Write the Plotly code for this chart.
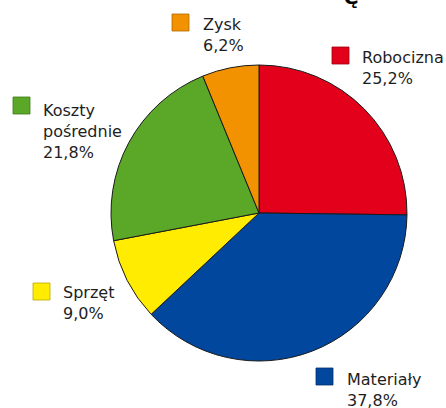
import plotly.graph_objects as go

# ---- data ----
labels = ["Robocizna", "Materiały", "Sprzęt", "Koszty pośrednie", "Zysk"]
display_names = ["Robocizna", "Materiały", "Sprzęt", "Koszty<br>pośrednie", "Zysk"]
values = [25.2, 37.8, 9.0, 21.8, 6.2]
colors = ["#E2001A", "#00479D", "#FFEC00", "#5BA829", "#F39200"]
edge_colors = ["#9a0012", "#00306a", "#b8a800", "#3d7a1a", "#b06a00"]

W, H = 446, 408

# legend-like label placement (pixels: square left/top, text left, cap top)
label_pos = [
    (332, 47, 362, 51),   # Robocizna
    (316, 368, 347, 373), # Materiały
    (33, 283, 63, 286),   # Sprzęt
    (13, 97, 43, 104),    # Koszty
    (172, 14, 203, 18),   # Zysk
]

def px(x):
    return x / W

def py(y):
    return 1 - y / H

cx, cy, r = 259, 213, 148

fig = go.Figure(go.Pie(
    labels=labels,
    values=values,
    sort=False,
    direction="clockwise",
    rotation=0,
    marker=dict(colors=colors, line=dict(color="#1a1a1a", width=1)),
    textinfo="none",
    hoverinfo="label+percent",
    domain=dict(x=[px(cx - r), px(cx + r)], y=[py(cy + r), py(cy - r)]),
    showlegend=False,
))

shapes = []
annotations = []
sq = 17
FONT = "DejaVu Sans, Verdana, sans-serif"
for name, val, col, ecol, (sx, sy, tx, ty) in zip(display_names, values, colors, edge_colors, label_pos):
    shapes.append(dict(
        type="rect", xref="paper", yref="paper",
        x0=px(sx), x1=px(sx + sq), y0=py(sy + sq), y1=py(sy),
        fillcolor=col, line=dict(color=ecol, width=0.8),
    ))
    pct = f"{val:.1f}".replace(".", ",") + "%"
    annotations.append(dict(
        xref="paper", yref="paper",
        x=px(tx - 2), y=py(ty - 5),
        xanchor="left", yanchor="top", align="left",
        text=f"{name}<br>{pct}", showarrow=False,
        font=dict(family=FONT, size=16, color="#1e1e1e"),
    ))

# cut-off fragment of a title above the chart
annotations.append(dict(
    xref="paper", yref="paper", x=px(351), y=py(11),
    xanchor="center", yanchor="bottom", text="<b>ę</b>", showarrow=False,
    font=dict(family=FONT, size=22, color="#000000"),
))

fig.update_layout(
    width=W, height=H,
    margin=dict(l=0, r=0, t=0, b=0),
    paper_bgcolor="white", plot_bgcolor="white",
    shapes=shapes, annotations=annotations,
)

fig.write_html(
    "out.html",
    config={"displayModeBar": False},
    post_script="document.body.style.margin='0';document.body.style.overflow='hidden';",
)
